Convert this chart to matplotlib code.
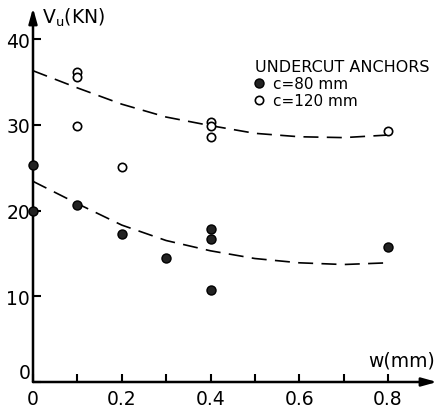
import numpy as np
import matplotlib.pyplot as plt

# datos
w_80 = [0.0, 0.0, 0.1, 0.2, 0.3, 0.4, 0.4, 0.4, 0.8]
v_80 = [25.3, 20.0, 20.6, 17.3, 14.5, 17.8, 16.7, 10.7, 15.8]

w_120 = [0.1, 0.1, 0.1, 0.2, 0.4, 0.4, 0.4, 0.8]
v_120 = [36.2, 35.6, 29.8, 25.1, 30.3, 29.8, 28.6, 29.3]

# curvas de tendencia (trazos)
w_curva = [0.0, 0.1, 0.2, 0.3, 0.4, 0.5, 0.6, 0.7, 0.8]
v_curva_120 = [36.3, 34.3, 32.4, 30.9, 29.9, 29.0, 28.6, 28.5, 28.8]
v_curva_80 = [23.4, 20.8, 18.3, 16.5, 15.3, 14.4, 13.9, 13.7, 13.9]

xticks_mayor = [0.0, 0.2, 0.4, 0.6, 0.8]
xticks_menor = [0.1, 0.3, 0.5, 0.7]
xtick_labels = ["0", "0.2", "0.4", "0.6", "0.8"]
yticks = [0, 10, 20, 30, 40]

fig = plt.figure(figsize=(4.4, 4.1), dpi=100)
W, H = 440, 410
# eje: origen en (33, 383) px, flecha x hasta 437 px, flecha y hasta 9 px
ax = fig.add_axes([33 / W, 27 / H, (437 - 33) / W, (383 - 9) / H])
ax.set_xlim(0, (437 - 33) / 443.75)
ax.set_ylim(0, (383 - 9) / 8.575)

for s in ax.spines.values():
    s.set_visible(False)

flecha = dict(arrowstyle="-|>,head_length=0.9,head_width=0.25", color="black",
              lw=1.8, shrinkA=0, shrinkB=0)
ax.annotate("", xy=(1, 0), xytext=(0, 0), xycoords="axes fraction",
            arrowprops=flecha, annotation_clip=False)
ax.annotate("", xy=(0, 1), xytext=(0, 0), xycoords="axes fraction",
            arrowprops=flecha, annotation_clip=False)

ax.plot(w_curva, v_curva_120, color="black", lw=1.2, dashes=(9, 5), clip_on=False)
ax.plot(w_curva, v_curva_80, color="black", lw=1.2, dashes=(9, 5), clip_on=False)

ax.plot(w_80, v_80, "o", ms=6.5, color="#222222", mec="black", ls="none",
        clip_on=False, zorder=5, label="c=80 mm")
ax.plot(w_120, v_120, "o", ms=6, mfc="white", mec="black", mew=1.2, ls="none",
        clip_on=False, zorder=5, label="c=120 mm")

ax.set_xticks(xticks_mayor)
ax.set_xticklabels(xtick_labels)
ax.set_xticks(xticks_menor, minor=True)
ax.set_yticks(yticks)
ax.tick_params(axis="both", which="both", direction="in", length=6, width=1.5,
               labelsize=13.5, colors="black")
ax.tick_params(axis="x", pad=5)
ax.tick_params(axis="y", pad=2)
# el "0" del eje y un poco mas arriba para no tocar el "0" del eje x
ax.get_yticklabels()[0].set_va("bottom")

fig.text(42 / W, 1 - 24 / H, r"V$_\mathrm{u}$(KN)", fontsize=13.5,
         ha="left", va="baseline")
fig.text(435 / W, 1 - 367 / H, "w(mm)", fontsize=13.5, ha="right", va="baseline")

leg = ax.legend(loc="upper left", bbox_to_anchor=(247 / W, 1 - 52 / H),
                bbox_transform=fig.transFigure, frameon=False,
                title="UNDERCUT ANCHORS", title_fontsize=11.5, fontsize=11,
                handlelength=0.6, handletextpad=0.6, labelspacing=0.15,
                borderpad=0, alignment="left")

fig.savefig("out.png", dpi=100)
